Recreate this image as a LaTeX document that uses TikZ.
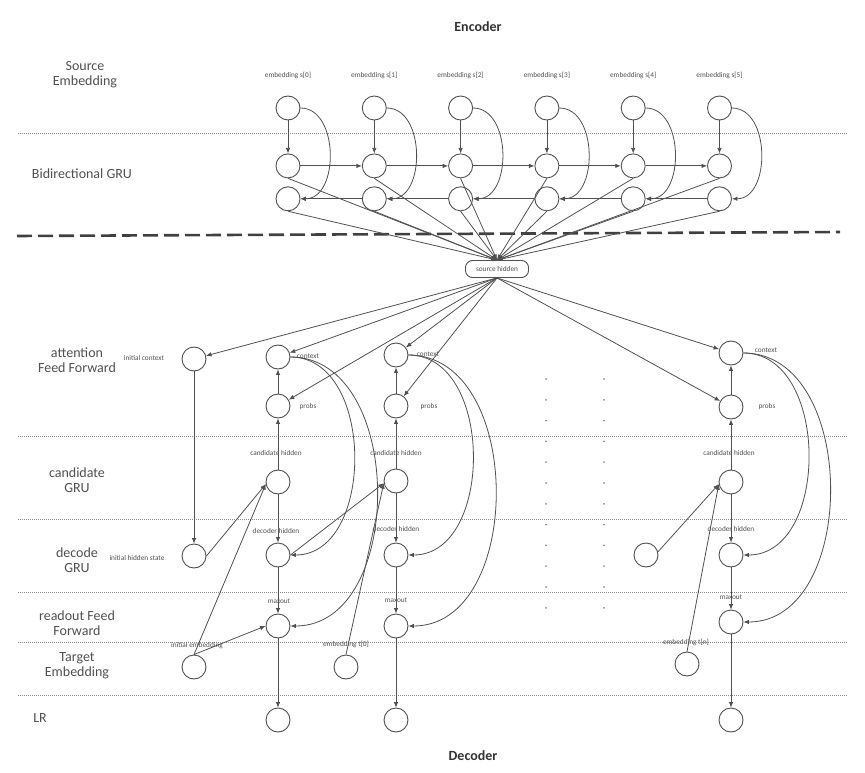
\documentclass[tikz,border=0pt]{standalone}
\usepackage{fontspec}
\setmainfont{Carlito}
\usepackage{tikz}
\usetikzlibrary{positioning, calc}
\usetikzlibrary{arrows.meta}
\definecolor{inkgray}{HTML}{505050}
\definecolor{rulegray}{HTML}{8C8C8C}
\tikzstyle{circlebox}=[circle,line width=0.9pt,draw=inkgray,minimum size=24pt,
inner sep=0pt]
\tikzstyle{hiddenbox}=[rectangle,rounded corners=7pt,line width=0.9pt,draw=inkgray,
minimum width=63pt,minimum height=17pt,inner sep=0pt,
font=\fontsize{7.3}{8}\selectfont,text=inkgray]
\tikzstyle{textbox}=[inner sep=0pt,font=\fontsize{7.3}{8}\selectfont,text=inkgray]
\tikzstyle{layerbox}=[align=center,inner sep=0pt,font=\fontsize{14}{15}\selectfont,
text=inkgray]
\tikzstyle{titlebox}=[inner sep=0pt,font=\bfseries\fontsize{14}{15}\selectfont,
text=black!80]
\tikzstyle{edgepath}=[-{Latex[length=5.5pt,width=4.5pt]},line width=0.8pt,color=inkgray]
\tikzstyle{bendpath}=[out=0,in=0,looseness=1.1]
\tikzstyle{layerline}=[draw=rulegray,line width=0.6pt,dash pattern=on 1pt off 1pt]
\tikzstyle{splitline}=[draw=black!75,line width=2.6pt,dash pattern=on 15pt off 6pt]
\tikzstyle{dotline}=[draw=rulegray,line width=2pt,line cap=round,
dash pattern=on 0pt off 20.8pt]

\begin{document}
\begin{tikzpicture}[x=1pt,y=-1pt]
    \useasboundingbox (0,0) rectangle (865,773);

    % titles and layer names
    \node[titlebox] (enc) at (478,27) {Encoder};
    \node[titlebox] (dec) at (473,756) {Decoder};
    \node[layerbox] (lsrc) at (85,75) {Source\\Embedding};
    \node[layerbox] (lbi) at (82,174) {Bidirectional GRU};
    \node[layerbox] (latt) at (77,360) {attention\\Feed Forward};
    \node[layerbox] (lcnd) at (77,480) {candidate\\GRU};
    \node[layerbox] (ldec) at (77,560) {decode\\GRU};
    \node[layerbox] (lread) at (77,623) {readout Feed\\Forward};
    \node[layerbox] (ltgt) at (77,666) {Target\\Embedding};
    \node[layerbox] (llr) at (40,718) {LR};

    % separators
    \draw[layerline] (18,133) -- (848,133);
    \draw[splitline] (17,236) -- (840,232);
    \draw[layerline] (18,436) -- (848,436);
    \draw[layerline] (18,519) -- (848,519);
    \draw[layerline] (18,592) -- (848,592);
    \draw[layerline] (18,642) -- (848,642);
    \draw[layerline] (18,695) -- (848,695);

    % encoder
    \node[circlebox] (s0) at (288,108) {};
    \node[circlebox, right=61.4pt of s0] (s1) {};
    \node[circlebox, right=61.4pt of s1] (s2) {};
    \node[circlebox, right=61.4pt of s2] (s3) {};
    \node[circlebox, right=61.4pt of s3] (s4) {};
    \node[circlebox, right=61.4pt of s4] (s5) {};
    \node[circlebox, below=33pt of s0] (f0) {};
    \node[circlebox, below=33pt of s1] (f1) {};
    \node[circlebox, below=33pt of s2] (f2) {};
    \node[circlebox, below=33pt of s3] (f3) {};
    \node[circlebox, below=33pt of s4] (f4) {};
    \node[circlebox, below=33pt of s5] (f5) {};
    \node[circlebox, below=8pt of f0] (b0) {};
    \node[circlebox, below=8pt of f1] (b1) {};
    \node[circlebox, below=8pt of f2] (b2) {};
    \node[circlebox, below=8pt of f3] (b3) {};
    \node[circlebox, below=8pt of f4] (b4) {};
    \node[circlebox, below=8pt of f5] (b5) {};
    \node[textbox] (ls0) at ($(s0)+(0,-33)$) {embedding s[0]};
    \node[textbox] (ls1) at ($(s1)+(0,-33)$) {embedding s[1]};
    \node[textbox] (ls2) at ($(s2)+(0,-33)$) {embedding s[2]};
    \node[textbox] (ls3) at ($(s3)+(0,-33)$) {embedding s[3]};
    \node[textbox] (ls4) at ($(s4)+(0,-33)$) {embedding s[4]};
    \node[textbox] (ls5) at ($(s5)+(0,-33)$) {embedding s[5]};

    \node[hiddenbox] (hid) at (497,269) {source hidden};

    \path[edgepath]
        (s0) edge (f0) (s1) edge (f1) (s2) edge (f2)
        (s3) edge (f3) (s4) edge (f4) (s5) edge (f5)
        (f0) edge (f1) (f1) edge (f2) (f2) edge (f3)
        (f3) edge (f4) (f4) edge (f5)
        (b1) edge (b0) (b2) edge (b1) (b3) edge (b2)
        (b4) edge (b3) (b5) edge (b4)
        (s0.east) edge[bendpath] (b0.east)
        (s1.east) edge[bendpath] (b1.east)
        (s2.east) edge[bendpath] (b2.east)
        (s3.east) edge[bendpath] (b3.east)
        (s4.east) edge[bendpath] (b4.east)
        (s5.east) edge[bendpath] (b5.east);

    \path[edgepath]
        (f0.south) edge (hid.north) (b0.south) edge (hid.north)
        (f1.south) edge (hid.north) (b1.south) edge (hid.north)
        (f2.south) edge (hid.north) (b2.south) edge (hid.north)
        (f3.south) edge (hid.north) (b3.south) edge (hid.north)
        (f4.south) edge (hid.north) (b4.south) edge (hid.north)
        (f5.south) edge (hid.north) (b5.south) edge (hid.north);

    % decoder, initial step
    \node[circlebox] (ictx) at (194,359) {};
    \node[circlebox] (ihid) at (194,556) {};
    \node[circlebox] (iemb) at (194,667) {};
    \node[textbox] (lictx) at (144,358) {initial context};
    \node[textbox] (lihid) at (137,558) {initial hidden state};
    \node[textbox] (liemb) at (197,646) {initial embedding};

    % decoder, step 1
    \node[circlebox] (ctx1) at (278,357) {};
    \node[circlebox] (prb1) at (278,406) {};
    \node[circlebox] (cnd1) at (278,482) {};
    \node[circlebox] (dec1) at (278,555) {};
    \node[circlebox] (max1) at (278,626) {};
    \node[circlebox] (out1) at (278,720) {};
    \node[textbox] (lctx1) at (308,356) {context};
    \node[textbox] (lprb1) at (308,407) {probs};
    \node[textbox] (lcnd1) at (276,453) {candidate hidden};
    \node[textbox] (ldec1) at (276,531) {decoder hidden};
    \node[textbox] (lmax1) at (279,601) {maxout};

    % decoder, step 2
    \node[circlebox] (ctx2) at (396,355) {};
    \node[circlebox] (prb2) at (396,406) {};
    \node[circlebox] (cnd2) at (396,481) {};
    \node[circlebox] (dec2) at (396,555) {};
    \node[circlebox] (max2) at (396,626) {};
    \node[circlebox] (out2) at (396,720) {};
    \node[circlebox] (emb0) at (346,667) {};
    \node[textbox] (lctx2) at (428,354) {context};
    \node[textbox] (lprb2) at (429,407) {probs};
    \node[textbox] (lcnd2) at (396,453) {candidate hidden};
    \node[textbox] (ldec2) at (396,529) {decoder hidden};
    \node[textbox] (lmax2) at (396,600) {maxout};
    \node[textbox] (lemb0) at (346,644) {embedding t[0]};

    % skipped steps
    \draw[dotline] (546,379) -- (546,609);
    \draw[dotline] (604,379) -- (604,609);

    % decoder, last step
    \node[circlebox] (ctxn) at (731,353) {};
    \node[circlebox] (prbn) at (731,407) {};
    \node[circlebox] (cndn) at (731,482) {};
    \node[circlebox] (decn) at (731,555) {};
    \node[circlebox] (maxn) at (731,622) {};
    \node[circlebox] (outn) at (731,720) {};
    \node[circlebox] (prvn) at (646,555) {};
    \node[circlebox] (embn) at (687,664) {};
    \node[textbox] (lctxn) at (766,350) {context};
    \node[textbox] (lprbn) at (767,407) {probs};
    \node[textbox] (lcndn) at (729,453) {candidate hidden};
    \node[textbox] (ldecn) at (731,529) {decoder hidden};
    \node[textbox] (lmaxn) at (731,597) {maxout};
    \node[textbox] (lembn) at (686,642) {embedding t[n]};

    \path[edgepath]
        (hid.south) edge (ictx) (hid.south) edge (ctx1) (hid.south) edge (prb1)
        (hid.south) edge (ctx2) (hid.south) edge (prb2)
        (hid.south) edge (ctxn) (hid.south) edge (prbn);

    \path[edgepath]
        (ictx) edge (ihid)
        (ihid.east) edge (cnd1.190)
        (iemb.north) edge (cnd1.190)
        (iemb.north) edge (max1.west)
        (cnd1) edge (prb1) (prb1) edge (ctx1)
        (cnd1) edge (dec1) (dec1) edge (max1) (max1) edge (out1)
        (ctx1.east) edge[bendpath] (dec1.east)
        (ctx1.east) edge[bendpath] (max1.east)
        (dec1.east) edge (cnd2.190)
        (emb0.north) edge (cnd2.190)
        (cnd2) edge (prb2) (prb2) edge (ctx2)
        (cnd2) edge (dec2) (dec2) edge (max2) (max2) edge (out2)
        (ctx2.east) edge[bendpath] (dec2.east)
        (ctx2.east) edge[bendpath] (max2.east)
        (prvn.15) edge (cndn.190)
        (embn.north) edge (cndn.190)
        (cndn) edge (prbn) (prbn) edge (ctxn)
        (cndn) edge (decn) (decn) edge (maxn) (maxn) edge (outn)
        (ctxn.east) edge[bendpath] (decn.east)
        (ctxn.east) edge[bendpath] (maxn.east);
\end{tikzpicture}
\end{document}
